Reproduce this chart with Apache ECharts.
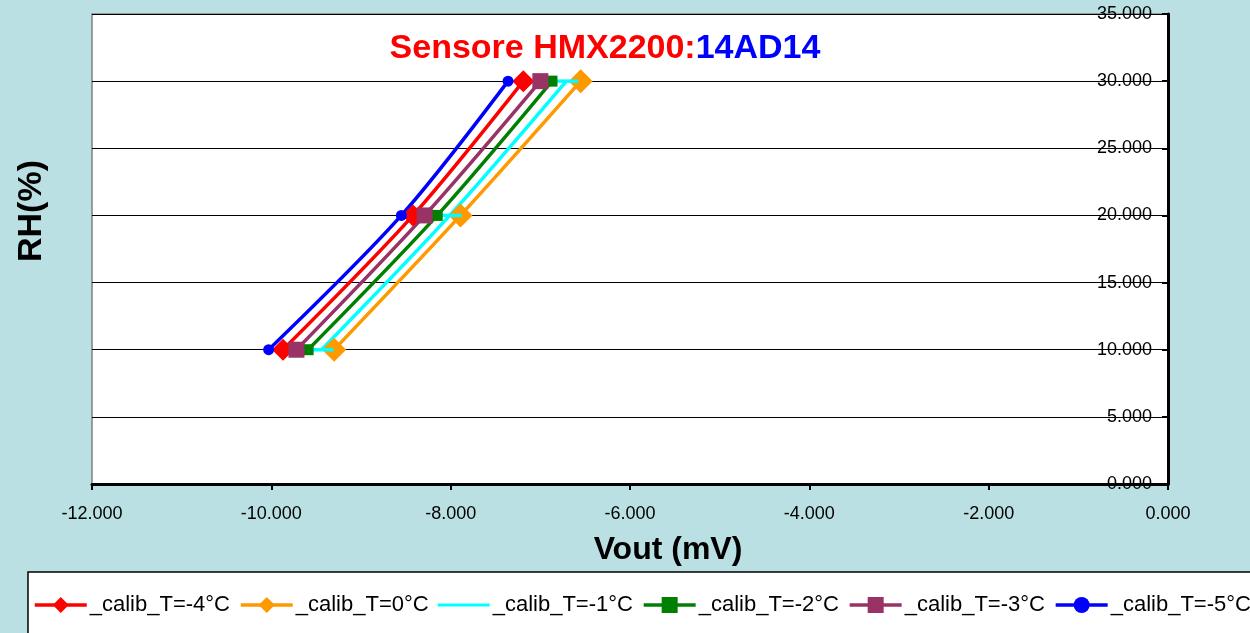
<!DOCTYPE html>
<html>
<head>
<meta charset="utf-8">
<script src="https://cdn.jsdelivr.net/npm/echarts@6/dist/echarts.min.js"></script>
<style>
html, body { margin: 0; padding: 0; background: #bae0e3; }
#chart { width: 1250px; height: 633px; }
</style>
</head>
<body>
<div id="chart"></div>
<script>
// RH levels (%) read at each calibration point
var rhLevels = [10, 20, 30];

// Vout (mV) per temperature
var voutTm4 = [-9.87, -8.42, -7.19];
var voutT0 = [-9.30, -7.89, -6.55];
var voutTm1 = [-9.44, -8.01, -6.71];
var voutTm2 = [-9.59, -8.15, -6.87];
var voutTm3 = [-9.72, -8.29, -7.00];
var voutTm5 = [-10.03, -8.55, -7.36];

var xTicks = [-12, -10, -8, -6, -4, -2, 0];

function pts(xs) {
	return xs.map(function (x, i) { return [x, rhLevels[i]]; });
}

var chart = echarts.init(document.getElementById('chart'));
var font = 'Liberation Sans, Arial, sans-serif';

// one entry per legend item, same order as the reference
var defs = [
	{ name: '_calib_T=-4°C', color: '#ff0000', data: voutTm4, symbol: 'diamond', size: 22 },
	{ name: '_calib_T=0°C', color: '#ff9900', data: voutT0, symbol: 'diamond', size: 24 },
	{ name: '_calib_T=-1°C', color: '#00ffff', data: voutTm1, symbol: 'rect', size: [24, 3.5], icon: 'path://M0,0H100V6H0Z' },
	{ name: '_calib_T=-2°C', color: '#008000', data: voutTm2, symbol: 'rect', size: 11 },
	{ name: '_calib_T=-3°C', color: '#993366', data: voutTm3, symbol: 'rect', size: 16 },
	{ name: '_calib_T=-5°C', color: '#0000ff', data: voutTm5, symbol: 'circle', size: 11 }
];

var series = defs.map(function (d) {
	return {
		name: d.name,
		type: 'line',
		smooth: 0.3,
		data: pts(d.data),
		symbol: d.symbol,
		symbolSize: d.size,
		showAllSymbol: true,
		color: d.color,
		lineStyle: { color: d.color, width: 3.5 },
		itemStyle: { color: d.color },
		emphasis: { disabled: true }
	};
});

chart.setOption({
	backgroundColor: '#bae0e3',
	animation: false,
	textStyle: { fontFamily: font },
	title: {
		text: '{a|Sensore HMX2200:}{b|14AD14}',
		left: 600,
		top: 27,
		textAlign: 'center',
		textStyle: {
			rich: {
				a: { color: '#ff0000', fontSize: 34, fontWeight: 'bold', fontFamily: font },
				b: { color: '#0000ff', fontSize: 34, fontWeight: 'bold', fontFamily: font }
			}
		}
	},
	legend: {
		left: 28,
		top: 572,
		width: 1300,
		padding: [22, 6, 30, 5],
		itemWidth: 52,
		itemHeight: 20,
		itemGap: 9,
		backgroundColor: '#ffffff',
		borderColor: '#000000',
		borderWidth: 1.5,
		lineStyle: { width: 3.5 },
		textStyle: { fontSize: 22, color: '#000', fontFamily: font, padding: [0, 0, 0, -2] },
		data: defs.map(function (d) {
			return d.icon ? { name: d.name, icon: d.icon } : d.name;
		})
	},
	grid: {
		left: 92, right: 82, top: 14, bottom: 149,
		show: true,
		backgroundColor: '#ffffff',
		borderColor: '#808080',
		borderWidth: 1.5
	},
	xAxis: {
		type: 'value',
		min: xTicks[0],
		max: xTicks[xTicks.length - 1],
		interval: 2,
		name: 'Vout (mV)',
		nameLocation: 'middle',
		nameGap: 50,
		nameTextStyle: { fontSize: 32, fontWeight: 'bold', color: '#000', padding: [0, 0, 0, 76] },
		axisLine: { onZero: false, lineStyle: { color: '#000', width: 3 } },
		axisTick: { length: 6, lineStyle: { color: '#000', width: 2 } },
		axisLabel: {
			fontSize: 18, color: '#000', margin: 21,
			formatter: function (v) { return v.toFixed(3); }
		},
		splitLine: { show: false }
	},
	yAxis: {
		type: 'value',
		position: 'right',
		min: 0,
		max: 35,
		interval: 5,
		axisLine: { onZero: false, lineStyle: { color: '#000', width: 3 } },
		axisTick: { inside: true, length: 6, lineStyle: { color: '#000', width: 2 } },
		axisLabel: {
			inside: true, fontSize: 18, color: '#000', margin: 16,
			formatter: function (v) { return v.toFixed(3); }
		},
		splitLine: { lineStyle: { color: '#000', width: 1 } }
	},
	graphic: [{
		type: 'text',
		left: 15,
		top: 160,
		rotation: Math.PI / 2,
		style: {
			text: 'RH(%)',
			fontSize: 34,
			fontWeight: 'bold',
			fontFamily: font,
			fill: '#000'
		}
	}],
	series: series
});
</script>
</body>
</html>
